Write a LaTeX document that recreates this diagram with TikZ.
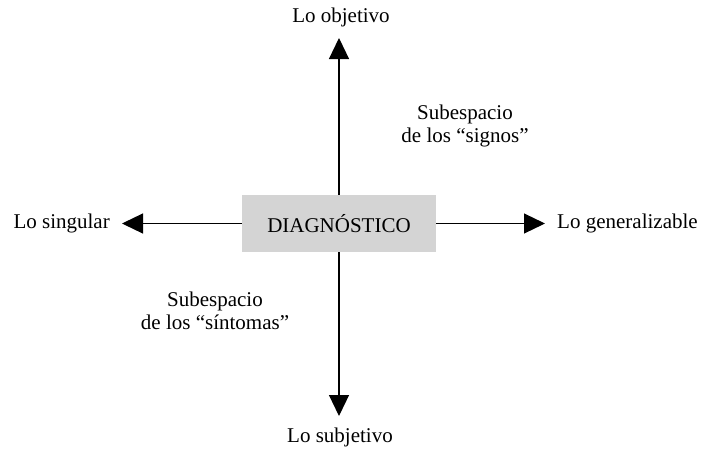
\documentclass[tikz,border=0pt]{standalone}
\usepackage{fontspec}
\setmainfont{Liberation Serif}
\usetikzlibrary{arrows.meta}
\definecolor{boxgray}{RGB}{212,212,212}
\tikzset{
  lbl/.style={font=\fontsize{21}{23.5}\selectfont, inner sep=0pt, align=center},
  axis/.style={line width=1.2pt, -{Triangle[length=21pt,width=20pt]}},
  centerbox/.style={fill=boxgray, minimum width=194pt, minimum height=57pt, inner sep=0pt, font=\fontsize{21}{23.5}\selectfont}
}
\begin{document}
\begin{tikzpicture}[x=1pt,y=-1pt]
\useasboundingbox (0,0) rectangle (701,450);
\node[centerbox] (box) at (339,223.5) {DIAGNÓSTICO};
\coordinate (tT) at (339,38);
\coordinate (tB) at (339,416);
\coordinate (tL) at (122,223.5);
\coordinate (tR) at (545,223.5);
\node[lbl] (top) at (341,17) {Lo objetivo};
\node[lbl] (bot) at (340,437) {Lo subjetivo};
\node[lbl, anchor=east] (left) at (110,223.5) {Lo singular};
\node[lbl, anchor=west] (right) at (557,223.5) {Lo generalizable};
\node[lbl] (signos) at (465,126) {Subespacio\\de los “signos”};
\node[lbl] (sintomas) at (215,311) {Subespacio\\de los “síntomas”};
\draw[axis] (box.north) -- (tT);
\draw[axis] (box.south) -- (tB);
\draw[axis] (box.west) -- (tL);
\draw[axis] (box.east) -- (tR);
\end{tikzpicture}
\end{document}
